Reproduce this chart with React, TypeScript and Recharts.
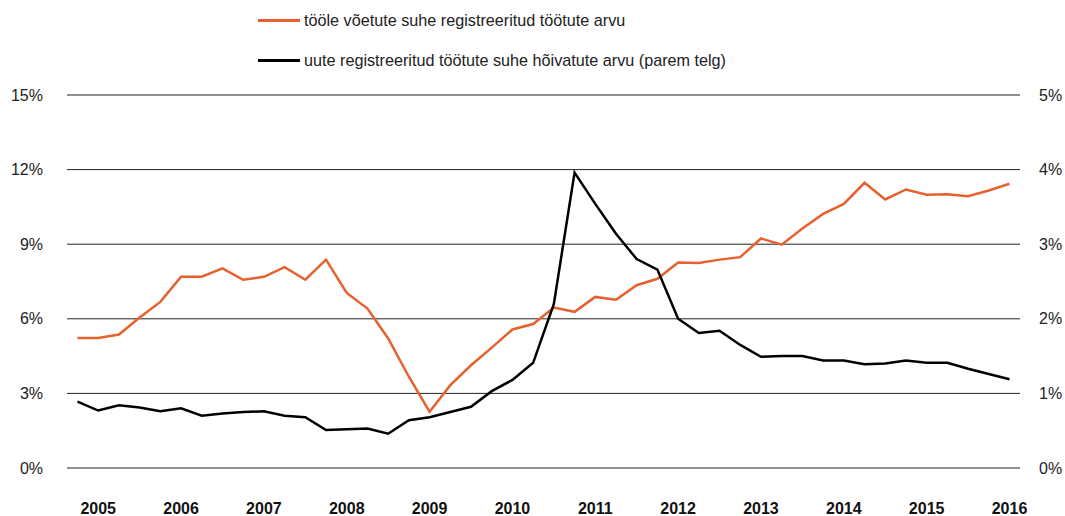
import React from 'react';
import { LineChart, Line, XAxis, YAxis, CartesianGrid } from 'recharts';

const years = [2005, 2006, 2007, 2008, 2009, 2010, 2011, 2012, 2013, 2014, 2015, 2016];
const quarters = ['I', 'II', 'III', 'IV'];
const categories: string[] = [];
years.forEach((y) => quarters.forEach((q) => categories.push(`${y} ${q}`)));
const periods = categories.slice(0, 46);

// tööle võetute suhe registreeritud töötute arvu (left axis, %)
const hiredRatio = [
  5.23, 5.23, 5.37, 6.05, 6.68, 7.69, 7.69, 8.03, 7.57, 7.69, 8.08, 7.57,
  8.38, 7.04, 6.41, 5.21, 3.67, 2.26, 3.33, 4.13, 4.84, 5.57, 5.79, 6.45,
  6.28, 6.88, 6.77, 7.35, 7.61, 8.26, 8.24, 8.38, 8.48, 9.23, 8.98, 9.63,
  10.22, 10.62, 11.47, 10.8, 11.2, 10.99, 11.01, 10.93, 11.16, 11.43,
];

// uute registreeritud töötute suhe hõivatute arvu (right axis, %)
const newUnemployedRatio = [
  0.89, 0.77, 0.84, 0.81, 0.76, 0.8, 0.7, 0.73, 0.75, 0.76, 0.7, 0.68,
  0.51, 0.52, 0.53, 0.46, 0.64, 0.68, 0.75, 0.82, 1.03, 1.18, 1.41, 2.2,
  3.96, 3.54, 3.14, 2.8, 2.66, 2.0, 1.81, 1.84, 1.65, 1.49, 1.5, 1.5,
  1.44, 1.44, 1.39, 1.4, 1.44, 1.41, 1.41, 1.33, 1.26, 1.19,
];

const leftTicks = [0, 3, 6, 9, 12, 15];
const rightTicks = [0, 1, 2, 3, 4, 5];
const xTicks = periods.filter((p) => p.endsWith(' II'));

const seriesNames = {
  hired: 'tööle võetute suhe registreeritud töötute arvu',
  fresh: 'uute registreeritud töötute suhe hõivatute arvu (parem telg)',
};

const ORANGE = '#E6612D';
const FONT = '"Liberation Sans", Arial, Helvetica, sans-serif';

const data = periods.map((p, i) => ({
  period: p,
  hired: hiredRatio[i],
  fresh: newUnemployedRatio[i],
}));

export default function App() {
  return (
    <div style={{ position: 'absolute', left: 0, top: 0, width: 1065, height: 516, background: '#fff', fontFamily: FONT }}>
      <LineChart width={1065} height={516} data={data} margin={{ top: 95, right: 0, bottom: 0, left: 0 }}>
        <CartesianGrid vertical={false} stroke="#222" strokeWidth={1} yAxisId="left" />
        <XAxis
          dataKey="period"
          ticks={xTicks}
          tickFormatter={(v: string) => v.split(' ')[0]}
          axisLine={false}
          tickLine={false}
          tickSize={0}
          tickMargin={35}
          height={48}
          padding={{ left: 10.5, right: 10.5 }}
          interval={0}
          tick={{ fontSize: 16, fontWeight: 'bold', fill: '#111', fontFamily: FONT }}
        />
        <YAxis
          yAxisId="left"
          domain={[0, 15]}
          ticks={leftTicks}
          tickFormatter={(v: number) => `${v}%`}
          axisLine={false}
          tickLine={false}
          tickSize={0}
          tickMargin={24}
          width={67}
          tick={{ fontSize: 16, fill: '#222', fontFamily: FONT }}
        />
        <YAxis
          yAxisId="right"
          orientation="right"
          domain={[0, 5]}
          ticks={rightTicks}
          tickFormatter={(v: number) => `${v}%`}
          axisLine={false}
          tickLine={false}
          tickSize={0}
          tickMargin={19}
          width={45}
          tick={{ fontSize: 16, fill: '#222', fontFamily: FONT, textAnchor: 'start' }}
        />
        <Line
          yAxisId="left"
          type="linear"
          dataKey="hired"
          name={seriesNames.hired}
          stroke={ORANGE}
          strokeWidth={2.5}
          dot={false}
          isAnimationActive={false}
        />
        <Line
          yAxisId="right"
          type="linear"
          dataKey="fresh"
          name={seriesNames.fresh}
          stroke="#000"
          strokeWidth={2.5}
          dot={false}
          isAnimationActive={false}
        />
      </LineChart>
      <div style={{ position: 'absolute', left: 258, top: 0, fontSize: 16.2, color: '#222', lineHeight: '20px' }}>
        {[
          { name: seriesNames.hired, color: ORANGE, top: 10 },
          { name: seriesNames.fresh, color: '#000', top: 50 },
        ].map((it) => (
          <div key={it.name} style={{ position: 'absolute', top: it.top, left: 0, whiteSpace: 'nowrap', display: 'flex', alignItems: 'center' }}>
            <span style={{ display: 'inline-block', width: 42, height: 3, background: it.color, marginRight: 4 }} />
            <span>{it.name}</span>
          </div>
        ))}
      </div>
    </div>
  );
}
